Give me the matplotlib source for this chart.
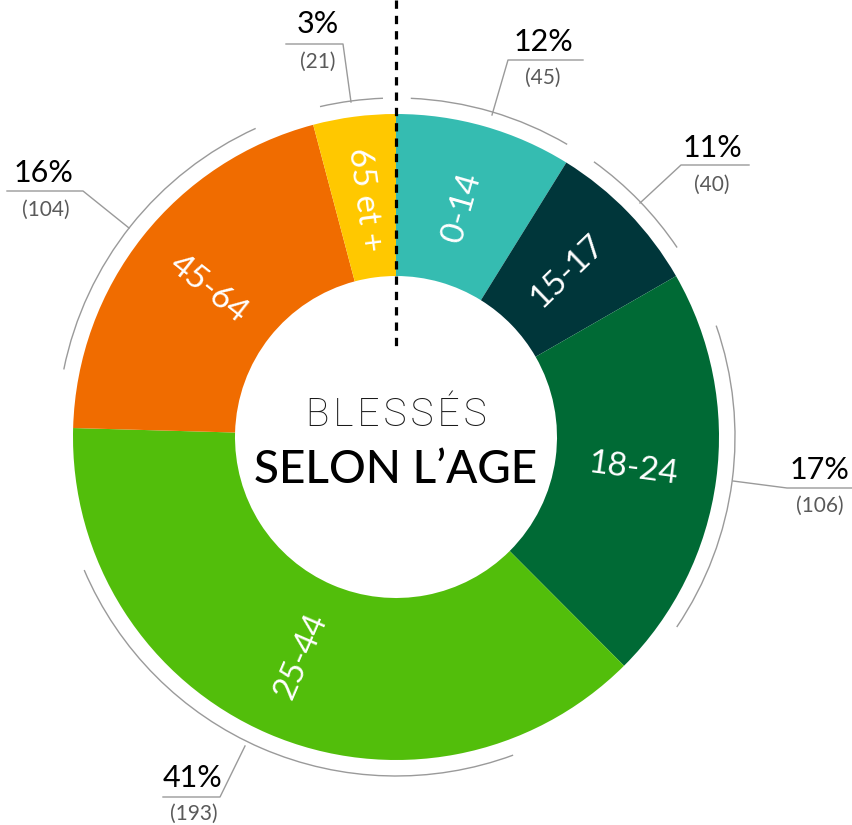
import numpy as np
import matplotlib
matplotlib.use("Agg")
import matplotlib.pyplot as plt
from matplotlib.patches import Arc

# data
ages = ["0-14", "15-17", "18-24", "25-44", "45-64", "65 et +"]
counts = [45, 40, 106, 193, 104, 21]
pct_labels = ["12%", "11%", "17%", "41%", "16%", "3%"]
colors = ["#35BCB1", "#00363A", "#006A35", "#52BE0B", "#F06C00", "#FFC800"]

# layout (pixels, y from top)
W, H = 852, 825
CX, CY = 396, 437
R_OUT, R_IN, R_ARC = 323, 161, 339
arc_pad = [(2.5, 1.5), (3.9, 4.1), (10.7, 11.0), (24.7, 24.7), (9.9, 9.6), (1.9, 2.2)]
leaders = [
    [(492, 115), (508, 60), (583, 60)],
    [(640, 203), (681, 165), (749, 165)],
    [(733, 481), (787, 488), (852, 488)],
    [(245, 746), (220, 797), (163, 797)],
    [(129, 228), (83, 191), (7, 191)],
    [(351, 102), (343, 44), (286, 44)],
]
pct_pos = [(543, 42), (712, 148), (820, 470), (193, 778), (43, 173), (318, 24)]
cnt_pos = [(543, 78), (712, 185), (820, 506), (194, 814), (46, 210), (318, 62)]


def P(x, y):
    return x, H - y


plt.rcParams["font.family"] = ["Lato", "DejaVu Sans"]

fig = plt.figure(figsize=(W / 100, H / 100), dpi=100)
ax = fig.add_axes([0, 0, 1, 1])

ax.pie(counts, radius=R_OUT, center=P(CX, CY), startangle=90, counterclock=False,
       colors=colors, wedgeprops=dict(width=R_OUT - R_IN, linewidth=0))

# angles clockwise from top
edges = np.concatenate([[0], np.cumsum(counts)]) / sum(counts) * 360
for i, name in enumerate(ages):
    a0, a1 = edges[i], edges[i + 1]
    # outer grey arc
    p0, p1 = arc_pad[i]
    ax.add_patch(Arc(P(CX, CY), 2 * R_ARC, 2 * R_ARC, theta1=90 - (a1 - p1),
                     theta2=90 - (a0 + p0), color="#9a9a9a", lw=1.0))
    # segment label, radial
    mid = (a0 + a1) / 2
    th = np.radians(90 - mid)
    rm = (R_OUT + R_IN) / 2 - 3
    x, y = P(CX, CY)
    rot = (90 - mid) % 360
    if rot > 90 and rot <= 270:
        rot -= 180
    elif rot > 270:
        rot -= 360
    ax.text(x + rm * np.cos(th), y + rm * np.sin(th), name, color="white",
            fontsize=24, rotation=rot, rotation_mode="anchor",
            ha="center", va="center")
    # leader line + labels
    pts = [P(*p) for p in leaders[i]]
    ax.plot([p[0] for p in pts], [p[1] for p in pts], color="#9a9a9a", lw=1.0)
    ax.text(*P(*pct_pos[i]), pct_labels[i], fontsize=22, color="black",
            ha="center", va="center")
    ax.text(*P(*cnt_pos[i]), f"({counts[i]})", fontsize=15, color="#5a5a5a",
            ha="center", va="center")

# dashed divider
ax.plot(*zip(P(CX, 0), P(CX, 352)), color="black", lw=2.3, ls=(0, (2.6, 2.2)))

# centre title
ax.text(*P(CX, 415), "\u200a".join("BLESSÉS"), fontsize=28, fontweight="light",
        family=["Roboto", "DejaVu Sans"], color="#1a1a1a",
        ha="center", va="center")
ax.text(*P(CX, 470), "SELON L\u2019AGE", fontsize=33, fontweight="medium",
        color="black", ha="center", va="center")

ax.set_xlim(0, W)
ax.set_ylim(0, H)
ax.set_aspect("equal")
ax.axis("off")
fig.savefig("out.png", dpi=100)
